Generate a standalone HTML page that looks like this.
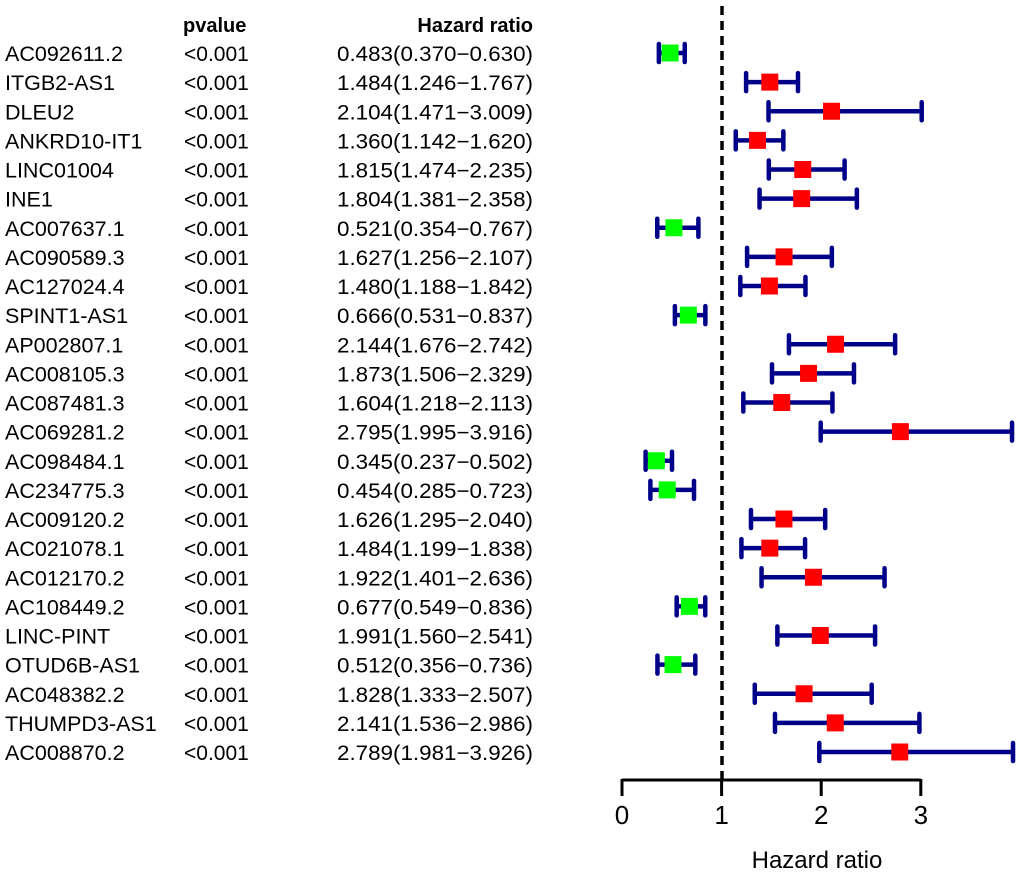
<!DOCTYPE html>
<html><head><meta charset="utf-8"><style>
html,body{margin:0;padding:0;background:#fff;}
svg{display:block;font-family:"Liberation Sans",Arial,sans-serif;}
</style></head><body>
<svg id="chart" width="1020" height="878" viewBox="0 0 1020 878">
<line x1="722" y1="6" x2="722" y2="780" stroke="#000" stroke-width="3.5" stroke-dasharray="9,6"/>
<text x="183" y="32" font-size="20" font-weight="bold">pvalue</text>
<text x="533" y="32" font-size="20" font-weight="bold" text-anchor="end">Hazard ratio</text>
<g id="rows"></g>
<g id="axis"></g>
<text x="817" y="868" font-size="24" text-anchor="middle">Hazard ratio</text>
</svg>
<script>
const genes=["AC092611.2","ITGB2-AS1","DLEU2","ANKRD10-IT1","LINC01004","INE1","AC007637.1","AC090589.3","AC127024.4","SPINT1-AS1","AP002807.1","AC008105.3","AC087481.3","AC069281.2","AC098484.1","AC234775.3","AC009120.2","AC021078.1","AC012170.2","AC108449.2","LINC-PINT","OTUD6B-AS1","AC048382.2","THUMPD3-AS1","AC008870.2"];
const hr=[0.483,1.484,2.104,1.360,1.815,1.804,0.521,1.627,1.480,0.666,2.144,1.873,1.604,2.795,0.345,0.454,1.626,1.484,1.922,0.677,1.991,0.512,1.828,2.141,2.789];
const low=[0.370,1.246,1.471,1.142,1.474,1.381,0.354,1.256,1.188,0.531,1.676,1.506,1.218,1.995,0.237,0.285,1.295,1.199,1.401,0.549,1.560,0.356,1.333,1.536,1.981];
const high=[0.630,1.767,3.009,1.620,2.235,2.358,0.767,2.107,1.842,0.837,2.742,2.329,2.113,3.916,0.502,0.723,2.040,1.838,2.636,0.836,2.541,0.736,2.507,2.986,3.926];
const pvals=["<0.001","<0.001","<0.001","<0.001","<0.001","<0.001","<0.001","<0.001","<0.001","<0.001","<0.001","<0.001","<0.001","<0.001","<0.001","<0.001","<0.001","<0.001","<0.001","<0.001","<0.001","<0.001","<0.001","<0.001","<0.001"];
const ticks=[0,1,2,3];
const NS="http://www.w3.org/2000/svg";
const xs=v=>622+v*99.6;
const ys=i=>53+i*29.125;
const rows=document.getElementById('rows');
function mk(tag,attrs,parent){const e=document.createElementNS(NS,tag);for(const k in attrs)e.setAttribute(k,attrs[k]);parent.appendChild(e);return e;}
genes.forEach((g,i)=>{
  const y=ys(i);
  const t1=mk('text',{x:5,y:y+8,'font-size':21.5},rows);t1.textContent=g;
  
  
  const t2=mk('text',{x:184,y:y+8,'font-size':21},rows);t2.textContent=pvals[i];
  
  
  const t3=mk('text',{x:337,y:y+8,'font-size':21,textLength:196,lengthAdjust:'spacingAndGlyphs'},rows);
  t3.textContent=hr[i].toFixed(3)+"("+low[i].toFixed(3)+"\u2212"+high[i].toFixed(3)+")";
  
  
  const g1=mk('g',{},rows);
  
  
  const x1=xs(low[i]),x2=xs(high[i]);
  mk('line',{x1:x1,y1:y,x2:x2,y2:y,stroke:'#000088','stroke-width':4.5},g1);
  mk('line',{x1:x1,y1:y-9,x2:x1,y2:y+9,stroke:'#000088','stroke-width':4.5,'stroke-linecap':'round'},g1);
  mk('line',{x1:x2,y1:y-9,x2:x2,y2:y+9,stroke:'#000088','stroke-width':4.5,'stroke-linecap':'round'},g1);
  const sq=mk('rect',{x:xs(hr[i])-8.5,y:y-8.5,width:17,height:17,fill:hr[i]>1?'#ff0000':'#00ff00'},rows);
  
  
});
const ax=document.getElementById('axis');
const al=mk('line',{x1:xs(0),y1:780,x2:xs(3),y2:780,stroke:'#000','stroke-width':3},ax);


ticks.forEach(t=>{
  const tl=mk('line',{x1:xs(t),y1:779,x2:xs(t),y2:796,stroke:'#000','stroke-width':3},ax);
  
  
  const tx=mk('text',{x:xs(t),y:824,'font-size':26,'text-anchor':'middle'},ax);
  tx.textContent=String(t);
  
  
});
</script>
</body></html>
